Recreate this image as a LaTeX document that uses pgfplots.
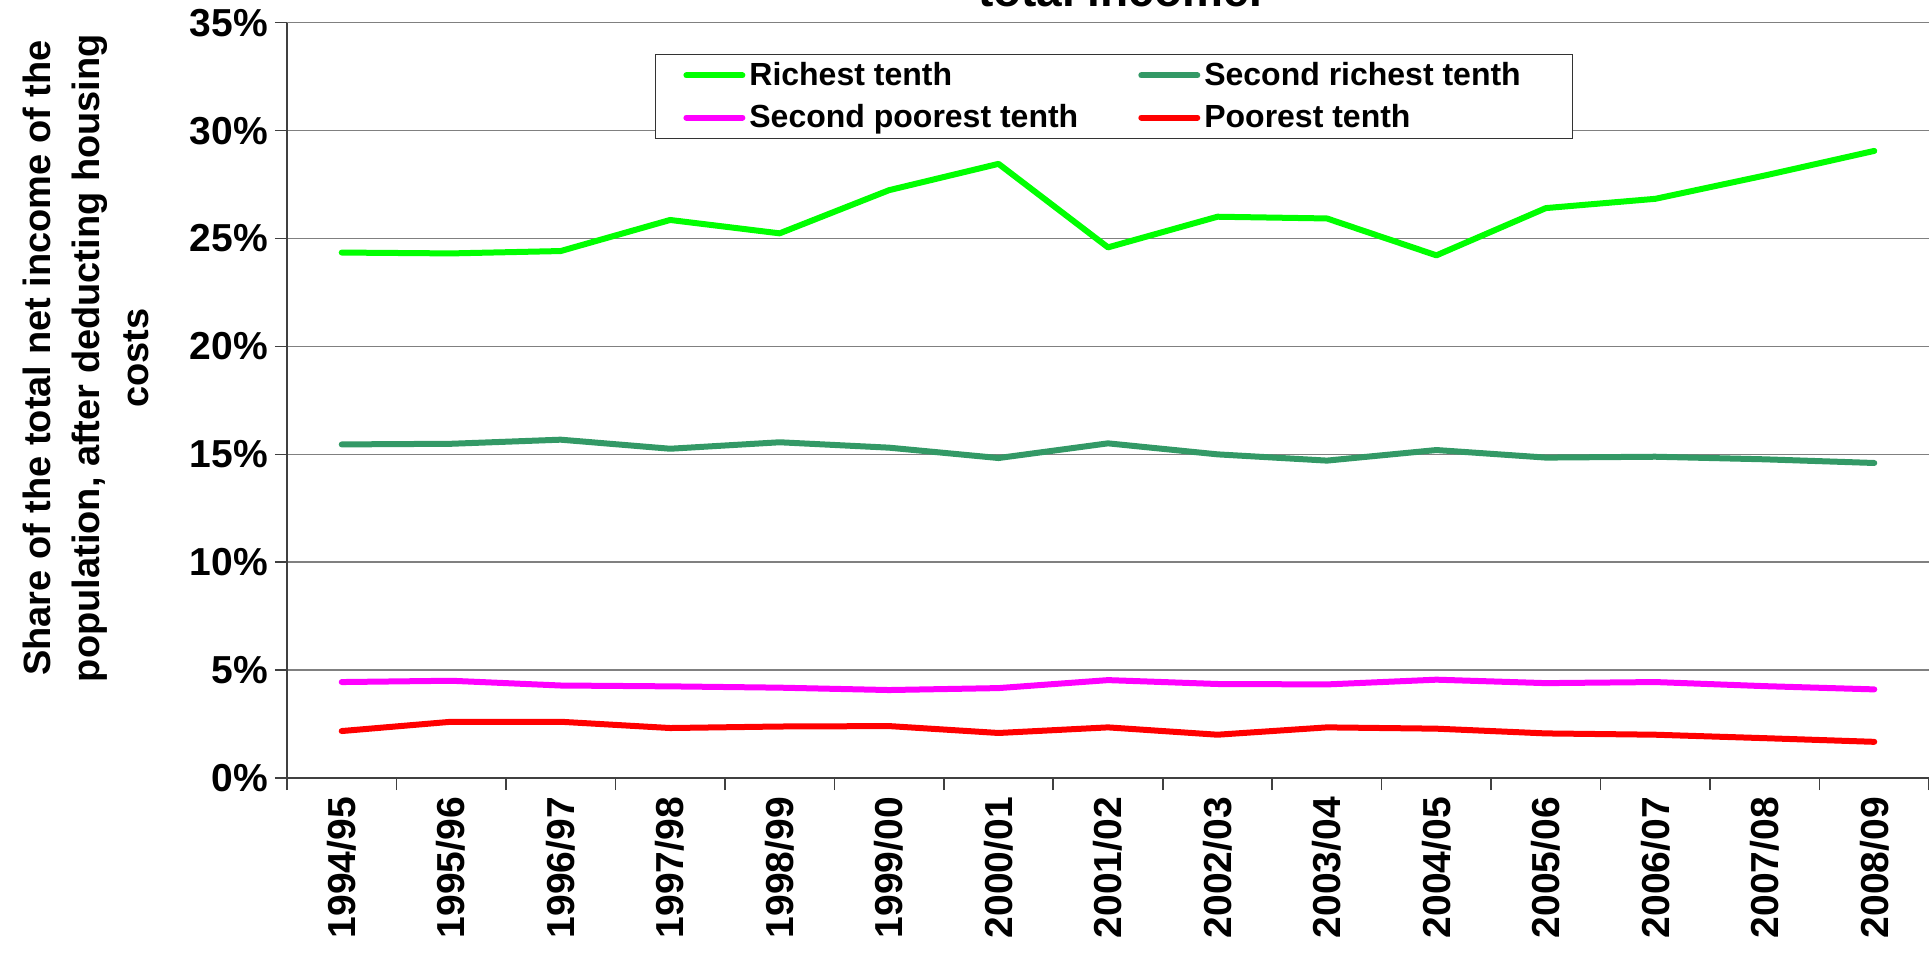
\documentclass[border=0pt]{standalone}
\usepackage{pgfplots}
\pgfplotsset{compat=1.18}
\usepackage{fontspec}
\setmainfont{Liberation Sans}
\definecolor{cRich}{HTML}{00FF00}
\definecolor{cSecRich}{HTML}{339966}
\definecolor{cSecPoor}{HTML}{FF00FF}
\definecolor{cPoor}{HTML}{FF0000}
\begin{document}
\begin{tikzpicture}
\begin{axis}[
  name=ax,
  scale only axis, width=821pt, height=377.7pt,
  xmin=-0.5, xmax=14.5, ymin=0, ymax=35,
  axis x line*=bottom, axis y line*=left,
  axis line style={draw=black!75, line width=0.8pt},
  xtick={-0.5,0.5,...,14.5},
  x tick label as interval,
  xticklabels={1994/95,1995/96,1996/97,1997/98,1998/99,1999/00,2000/01,2001/02,2002/03,2003/04,2004/05,2005/06,2006/07,2007/08,2008/09},
  ytick={0,5,...,35},
  yticklabels={0\%,5\%,10\%,15\%,20\%,25\%,30\%,35\%},
  ymajorgrids, grid style={draw=black!50, line width=0.8pt},
  tick style={draw=black!75, line width=0.8pt},
  tick align=outside, major tick length=6pt,
  xticklabel style={rotate=90, anchor=east, font=\fontsize{19.5}{23}\selectfont\bfseries},
  yticklabel style={font=\fontsize{19.5}{23}\selectfont\bfseries},
  ylabel={Share of the total net income of the\\population, after deducting housing\\costs},
  ylabel style={at={(axis description cs:-0.1224,0.556)}, anchor=center, align=center, font=\fontsize{19}{24.5}\selectfont\bfseries},
  title={total income.},
  title style={at={(axis description cs:0.5,1)}, anchor=base, yshift=2pt, xshift=6pt, font=\fontsize{23}{28}\selectfont\bfseries},
  legend columns=2,
  legend style={at={(0.224,0.959)}, anchor=north west, draw=black!80, line width=0.6pt, fill=white,
    font=\fontsize{16}{19}\selectfont\bfseries, inner xsep=14pt, inner ysep=2pt, row sep=4pt,
    /tikz/every even column/.append style={column sep=28pt}},
  legend cell align=left,
  legend image code/.code={\draw[#1, line width=3pt, line cap=round] (0pt,0pt) -- (28pt,0pt);},
  every axis plot/.append style={line width=3pt, line cap=round, line join=round},
]
\addplot[color=cRich] coordinates {(0,24.35) (1,24.31) (2,24.42) (3,25.86) (4,25.24) (5,27.24) (6,28.46) (7,24.59) (8,26.01) (9,25.93) (10,24.22) (11,26.41) (12,26.84) (13,27.92) (14,29.06)};
\addlegendentry{Richest tenth}
\addplot[color=cSecRich] coordinates {(0,15.46) (1,15.49) (2,15.68) (3,15.26) (4,15.56) (5,15.31) (6,14.83) (7,15.51) (8,15.0) (9,14.71) (10,15.2) (11,14.85) (12,14.89) (13,14.77) (14,14.6)};
\addlegendentry{Second richest tenth\kern10pt}
\addplot[color=cSecPoor] coordinates {(0,4.45) (1,4.51) (2,4.29) (3,4.25) (4,4.19) (5,4.08) (6,4.17) (7,4.54) (8,4.36) (9,4.34) (10,4.56) (11,4.40) (12,4.45) (13,4.26) (14,4.11)};
\addlegendentry{Second poorest tenth}
\addplot[color=cPoor] coordinates {(0,2.18) (1,2.61) (2,2.61) (3,2.32) (4,2.39) (5,2.41) (6,2.09) (7,2.35) (8,2.01) (9,2.35) (10,2.29) (11,2.07) (12,2.01) (13,1.85) (14,1.68)};
\addlegendentry{Poorest tenth}
\end{axis}
\pgfresetboundingbox
\path[use as bounding box] ([xshift=-143.5pt,yshift=-90pt]ax.south west) rectangle ([yshift=11.35pt]ax.north east);
\end{tikzpicture}
\end{document}
